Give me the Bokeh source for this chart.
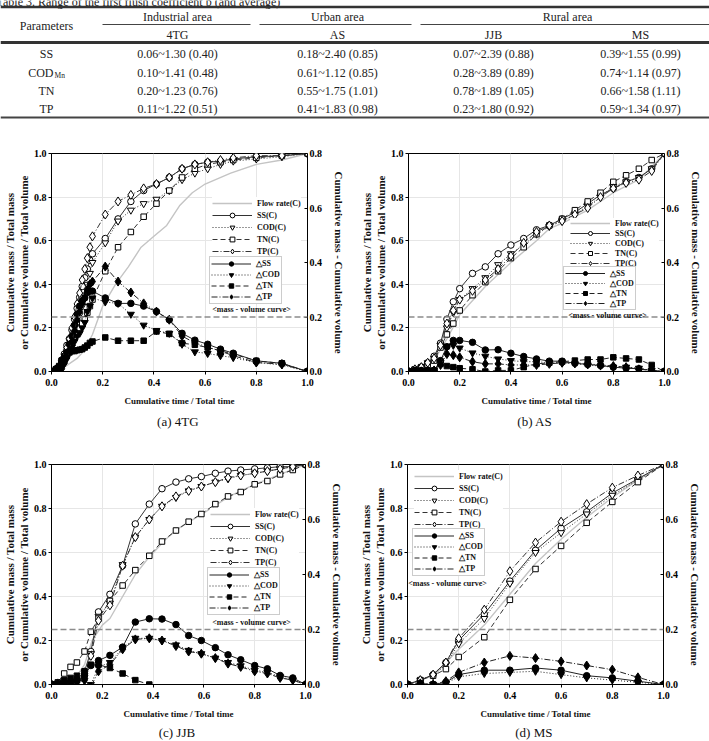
import math
from bokeh.plotting import figure
from bokeh.layouts import column, row
from bokeh.models import (Range1d, LinearAxis, Span, Legend, LegendItem, Label, Title,
                          FixedTicker, PrintfTickFormatter)
from bokeh.embed import file_html
from bokeh.resources import INLINE
from bokeh.core.properties import value

SERIF = "Liberation Serif"

# ---------------- table data ----------------
table_title = "Table 3. Range of the first flush coefficient b (and average)"
area_labels = ["Industrial area", "Urban area", "Rural area"]
site_labels = ["4TG", "AS", "JJB", "MS"]
param_labels = ["SS", "COD", "TN", "TP"]
param_subs = ["", "Mn", "", ""]
b_4TG = ["0.06~1.30 (0.40)", "0.10~1.41 (0.48)", "0.20~1.23 (0.76)", "0.11~1.22 (0.51)"]
b_AS = ["0.18~2.40 (0.85)", "0.61~1.12 (0.85)", "0.55~1.75 (1.01)", "0.41~1.83 (0.98)"]
b_JJB = ["0.07~2.39 (0.88)", "0.28~3.89 (0.89)", "0.78~1.89 (1.05)", "0.23~1.80 (0.92)"]
b_MS = ["0.39~1.55 (0.99)", "0.74~1.14 (0.97)", "0.66~1.58 (1.11)", "0.59~1.34 (0.97)"]

# ---------------- chart data ----------------
axis_ticks = [0.0, 0.2, 0.4, 0.6, 0.8, 1.0]
right_ticks = [0.0, 0.2, 0.4, 0.6, 0.8]
first_flush_ref = 0.2  # on right axis

# (a) 4TG
x_4tg = [0, 0.02, 0.03, 0.04, 0.05, 0.06, 0.07, 0.08, 0.09, 0.10, 0.11, 0.12, 0.13, 0.14, 0.15, 0.16,
         0.21, 0.26, 0.31, 0.36, 0.41, 0.46, 0.51, 0.56, 0.61, 0.66, 0.71, 0.80, 0.90, 1.00]
ss_c_4tg = [0, 0.01, 0.02, 0.05, 0.08, 0.12, 0.15, 0.19, 0.24, 0.29, 0.34, 0.39, 0.43, 0.47, 0.51, 0.54,
            0.61, 0.70, 0.78, 0.83, 0.86, 0.89, 0.93, 0.95, 0.96, 0.965, 0.975, 0.985, 0.99, 1.0]
cod_c_4tg = [0, 0.01, 0.02, 0.04, 0.06, 0.09, 0.12, 0.15, 0.18, 0.22, 0.26, 0.30, 0.35, 0.40, 0.45, 0.50,
             0.59, 0.69, 0.74, 0.77, 0.79, 0.83, 0.88, 0.91, 0.93, 0.95, 0.965, 0.975, 0.985, 1.0]
tn_c_4tg = [0, 0.01, 0.02, 0.05, 0.07, 0.10, 0.12, 0.14, 0.16, 0.18, 0.20, 0.22, 0.24, 0.27, 0.30, 0.33,
            0.46, 0.57, 0.64, 0.71, 0.77, 0.83, 0.89, 0.93, 0.95, 0.96, 0.97, 0.98, 0.99, 1.0]
tp_c_4tg = [0, 0.01, 0.02, 0.04, 0.07, 0.11, 0.15, 0.20, 0.25, 0.31, 0.36, 0.42, 0.47, 0.52, 0.57, 0.62,
            0.72, 0.78, 0.81, 0.84, 0.86, 0.89, 0.93, 0.95, 0.96, 0.97, 0.98, 0.99, 0.99, 1.0]
flow_x_4tg = [0, 0.05, 0.10, 0.13, 0.16, 0.20, 0.25, 0.30, 0.35, 0.40, 0.45, 0.50, 0.55, 0.60, 0.70, 0.80, 0.90, 1.00]
flow_y_4tg = [0, 0.02, 0.06, 0.10, 0.17, 0.30, 0.40, 0.48, 0.57, 0.62, 0.67, 0.76, 0.82, 0.86, 0.91, 0.95, 0.97, 1.0]
dss_4tg = [0, 0.01, 0.01, 0.03, 0.05, 0.07, 0.10, 0.13, 0.17, 0.21, 0.24, 0.26, 0.27, 0.29, 0.295, 0.295,
           0.27, 0.25, 0.25, 0.24, 0.22, 0.19, 0.14, 0.115, 0.10, 0.082, 0.067, 0.039, 0.03, 0]
dcod_4tg = [0, 0.01, 0.01, 0.02, 0.03, 0.05, 0.07, 0.09, 0.11, 0.13, 0.14, 0.16, 0.18, 0.22, 0.24, 0.27,
            0.255, 0.25, 0.21, 0.17, 0.15, 0.14, 0.10, 0.072, 0.066, 0.058, 0.051, 0.033, 0.024, 0]
dtn_x_4tg = x_4tg
dtn_4tg = [0, 0.01, 0.02, 0.04, 0.05, 0.065, 0.07, 0.075, 0.075, 0.078, 0.08, 0.082, 0.088, 0.095, 0.105, 0.11,
           0.125, 0.113, 0.113, 0.113, 0.147, 0.138, 0.104, 0.098, 0.088, 0.076, 0.064, 0.039, 0.03, 0]
dtp_4tg = [0, 0.01, 0.005, 0.01, 0.03, 0.05, 0.08, 0.11, 0.15, 0.19, 0.22, 0.25, 0.27, 0.30, 0.32, 0.33,
           0.385, 0.33, 0.29, 0.25, 0.22, 0.19, 0.13, 0.105, 0.09, 0.075, 0.058, 0.033, 0.027, 0]

# (b) AS
x_as = [0, 0.025, 0.05, 0.075, 0.1, 0.125, 0.15, 0.175, 0.2, 0.25, 0.3, 0.35, 0.4, 0.45, 0.5,
        0.55, 0.6, 0.65, 0.7, 0.75, 0.8, 0.85, 0.9, 0.95, 1.0]
ss_c_as = [0, 0.01, 0.02, 0.04, 0.07, 0.13, 0.24, 0.32, 0.38, 0.45, 0.48, 0.54, 0.58, 0.61, 0.65,
           0.67, 0.70, 0.73, 0.77, 0.81, 0.84, 0.87, 0.89, 0.93, 1.0]
cod_c_as = [0, 0.01, 0.02, 0.04, 0.06, 0.12, 0.20, 0.27, 0.33, 0.38, 0.43, 0.49, 0.54, 0.58, 0.63,
            0.665, 0.69, 0.72, 0.76, 0.80, 0.85, 0.87, 0.89, 0.93, 1.0]
tn_c_as = [0, 0.01, 0.02, 0.03, 0.05, 0.11, 0.17, 0.22, 0.28, 0.35, 0.41, 0.46, 0.52, 0.57, 0.63,
           0.67, 0.70, 0.74, 0.78, 0.82, 0.87, 0.90, 0.93, 0.97, 1.0]
tp_c_as = [0, 0.01, 0.02, 0.04, 0.06, 0.12, 0.22, 0.28, 0.33, 0.37, 0.42, 0.47, 0.53, 0.59, 0.64,
           0.67, 0.69, 0.72, 0.75, 0.80, 0.84, 0.865, 0.88, 0.92, 1.0]
flow_x_as = [0, 0.1, 0.125, 0.15, 0.2, 0.3, 0.4, 0.5, 0.55, 0.6, 0.7, 0.8, 0.9, 1.0]
flow_y_as = [0, 0.05, 0.10, 0.15, 0.26, 0.39, 0.50, 0.60, 0.655, 0.68, 0.74, 0.82, 0.88, 1.0]
dss_as = [0, 0.004, 0.004, 0.004, 0.004, 0.04, 0.091, 0.114, 0.114, 0.107, 0.079, 0.08, 0.067, 0.055, 0.046,
          0.038, 0.038, 0.03, 0.026, 0.022, 0.016, 0.012, 0.01, 0.004, 0]
dcod_as = [0, 0.002, 0.002, 0.002, 0.004, 0.032, 0.092, 0.096, 0.086, 0.068, 0.056, 0.046, 0.04, 0.036, 0.036,
           0.032, 0.032, 0.028, 0.024, 0.02, 0.016, 0.016, 0.012, 0.004, 0]
dtn_x_as = x_as
dtn_as = [0, 0, 0, 0.002, 0.004, 0.028, 0.02, 0.016, 0.012, 0.008, 0.0, 0.004, 0.004, 0.016, 0.028,
          0.032, 0.036, 0.04, 0.044, 0.044, 0.052, 0.048, 0.044, 0.024, 0]
dtp_as = [0, 0, 0, 0.002, 0.004, 0.024, 0.064, 0.06, 0.052, 0.036, 0.028, 0.028, 0.024, 0.024, 0.024,
          0.028, 0.032, 0.032, 0.028, 0.024, 0.02, 0.016, 0.008, 0.004, 0]

# (c) JJB
x_jjb = [0, 0.025, 0.05, 0.075, 0.1, 0.13, 0.155, 0.185, 0.23, 0.28, 0.33, 0.385, 0.435, 0.49,
         0.54, 0.59, 0.645, 0.695, 0.745, 0.8, 0.85, 0.9, 0.95, 1.0]
ss_c_jjb = [0, 0.005, 0.005, 0.01, 0.02, 0.06, 0.15, 0.33, 0.41, 0.54, 0.73, 0.82, 0.89, 0.92,
            0.935, 0.945, 0.96, 0.97, 0.975, 0.98, 0.985, 0.99, 0.99, 1.0]
cod_c_jjb = [0, 0.005, 0.005, 0.01, 0.015, 0.04, 0.14, 0.31, 0.37, 0.545, 0.67, 0.75, 0.81, 0.85,
             0.88, 0.90, 0.92, 0.935, 0.95, 0.96, 0.97, 0.98, 0.99, 1.0]
tn_c_jjb = [0, 0.01, 0.05, 0.08, 0.10, 0.15, 0.24, 0.30, 0.38, 0.45, 0.52, 0.585, 0.65, 0.70,
            0.74, 0.775, 0.82, 0.855, 0.875, 0.91, 0.925, 0.955, 0.975, 1.0]
tp_c_jjb = [0, 0.005, 0.005, 0.01, 0.015, 0.04, 0.13, 0.29, 0.36, 0.54, 0.67, 0.75, 0.81, 0.855,
            0.88, 0.90, 0.92, 0.94, 0.95, 0.96, 0.97, 0.98, 0.99, 1.0]
flow_x_jjb = [0, 0.05, 0.1, 0.13, 0.16, 0.2, 0.23, 0.28, 0.33, 0.385, 0.45, 0.5, 0.6, 0.7, 0.8, 0.9, 1.0]
flow_y_jjb = [0, 0.01, 0.04, 0.09, 0.20, 0.27, 0.30, 0.40, 0.50, 0.58, 0.66, 0.71, 0.78, 0.855, 0.91, 0.955, 1.0]
dss_jjb = [0, 0, 0.004, 0.008, 0.016, 0.032, 0.069, 0.087, 0.106, 0.136, 0.227, 0.239, 0.238, 0.218,
           0.178, 0.16, 0.134, 0.108, 0.09, 0.069, 0.057, 0.033, 0.024, 0]
dcod_jjb = [0, 0, 0, 0.004, 0.008, 0.016, 0, 0.064, 0.08, 0.132, 0.168, 0.168, 0.16, 0.144,
            0.124, 0.112, 0.096, 0.08, 0.068, 0.052, 0.044, 0.028, 0.016, 0]
dtn_x_jjb = [0, 0.025, 0.05, 0.075, 0.1, 0.13, 0.155, 0.185, 0.23, 0.28, 0.33, 0.385]
dtn_jjb = [0, 0.004, 0.016, 0.024, 0.032, 0.048, 0.072, 0.072, 0.06, 0.04, 0.016, 0.0]
dtp_jjb = [0, 0, 0, 0.004, 0.008, 0.016, -0.008, 0.048, 0.072, 0.128, 0.164, 0.168, 0.16, 0.14,
           0.12, 0.112, 0.096, 0.076, 0.064, 0.048, 0.04, 0.024, 0.016, 0]

# (d) MS
x_ms = [0, 0.05, 0.1, 0.15, 0.2, 0.3, 0.4, 0.5, 0.6, 0.7, 0.8, 0.9, 1.0]
ss_c_ms = [0, 0.02, 0.045, 0.10, 0.20, 0.32, 0.47, 0.61, 0.71, 0.785, 0.87, 0.935, 1.0]
cod_c_ms = [0, 0.02, 0.04, 0.09, 0.185, 0.30, 0.46, 0.60, 0.69, 0.775, 0.86, 0.93, 1.0]
tn_c_ms = [0, 0.02, 0.04, 0.07, 0.125, 0.215, 0.385, 0.525, 0.63, 0.735, 0.83, 0.92, 1.0]
tp_c_ms = [0, 0.02, 0.045, 0.10, 0.21, 0.34, 0.515, 0.645, 0.74, 0.82, 0.895, 0.95, 1.0]
flow_x_ms = [0, 0.1, 0.2, 0.3, 0.4, 0.5, 0.6, 0.7, 0.8, 0.9, 1.0]
flow_y_ms = [0, 0.04, 0.16, 0.27, 0.41, 0.55, 0.66, 0.76, 0.85, 0.93, 1.0]
dss_ms = [0, 0, 0, 0.008, 0.036, 0.052, 0.052, 0.06, 0.052, 0.032, 0.024, 0.012, 0]
dcod_ms = [0, 0, 0, 0.004, 0.028, 0.04, 0.044, 0.048, 0.036, 0.024, 0.016, 0.008, 0]
dtn_x_ms = [0, 0.05, 0.1, 0.15]
dtn_ms = [0, 0.004, 0.0, 0.0]
dtp_ms = [0, 0.004, 0, 0.012, 0.044, 0.08, 0.104, 0.096, 0.084, 0.069, 0.054, 0.026, 0]

# ---------------- styling ----------------
DASH = {"SS": "solid", "COD": "1 2", "TN": "5 3", "TP": "6 2 1 2"}
MARK = {"SS": ("circle", 6.5), "COD": ("inverted_triangle", 7), "TN": ("square", 5.5), "TP": ("diamond", 9)}
DELTA = "\u25b3"


def make_table():
    t = figure(width=709, height=140, x_range=Range1d(0, 709), y_range=Range1d(140, 0),
               x_axis_type=None, y_axis_type=None, output_backend="svg", toolbar_location=None,
               min_border=0, outline_line_color=None)
    t.grid.visible = False
    ink = "#222222"
    font = value(SERIF)
    t.text(x=[-4], y=[1.5], text=[table_title], text_font=font, text_font_size="12px",
           text_align="left", text_baseline="alphabetic", text_color=ink)
    # rules
    t.segment(x0=[0], y0=[6.5], x1=[709], y1=[6.5], line_width=2.6, line_color="#333333")
    t.segment(x0=[102, 259, 420], y0=[24, 24, 24], x1=[250, 411, 709], y1=[24, 24, 24],
              line_width=1, line_color="#444444")
    t.segment(x0=[0], y0=[42], x1=[709], y1=[42], line_width=3, line_color="#333333")
    t.segment(x0=[0], y0=[117], x1=[709], y1=[117], line_width=2, line_color="#444444")
    col_x = [177, 337, 493, 640]
    area_x = [177, 337, 567]
    row_y = [53, 72, 90, 108]
    t.text(x=[46], y=[25], text=["Parameters"], text_font=font, text_font_size="12px",
           text_align="center", text_baseline="middle", text_color=ink)
    t.text(x=area_x, y=[16] * 3, text=area_labels, text_font=font, text_font_size="12px",
           text_align="center", text_baseline="middle", text_color=ink)
    t.text(x=col_x, y=[34] * 4, text=site_labels, text_font=font, text_font_size="12px",
           text_align="center", text_baseline="middle", text_color=ink)
    for i, (name, sub) in enumerate(zip(param_labels, param_subs)):
        if sub:
            t.text(x=[53], y=[row_y[i]], text=[name], text_font=font, text_font_size="12px",
                   text_align="right", text_baseline="middle", text_color=ink)
            t.text(x=[54], y=[row_y[i] + 3], text=[sub], text_font=font, text_font_size="7.5px",
                   text_align="left", text_baseline="middle", text_color=ink)
        else:
            t.text(x=[46], y=[row_y[i]], text=[name], text_font=font, text_font_size="12px",
                   text_align="center", text_baseline="middle", text_color=ink)
    for cx, vals in zip(col_x, [b_4TG, b_AS, b_JJB, b_MS]):
        t.text(x=[cx] * 4, y=row_y, text=vals, text_font=font, text_font_size="12px",
               text_align="center", text_baseline="middle", text_color=ink)
    return t


def style_axis(ax, tick_size="10px", label_size="9px"):
    ax.major_label_text_font = SERIF
    ax.major_label_text_font_style = "bold"
    ax.major_label_text_font_size = tick_size
    ax.major_label_text_color = "black"
    ax.axis_label_text_font = SERIF
    ax.axis_label_text_font_style = "bold"
    ax.axis_label_text_font_size = label_size
    ax.axis_label_text_color = "#111111"
    ax.minor_tick_in = 0
    ax.minor_tick_out = 0
    ax.axis_line_color = "black"
    ax.major_tick_line_color = "black"


def make_panel(cfg, x, ss, cod, tn, tp, fx, fy, dss, dcod, dtn_x, dtn, dtp):
    ox, oy = cfg["origin"]
    W, H = cfg["size"]
    L, R, T, B = cfg["borders"]
    frame_left = ox + L
    frame_bottom = oy + H - B
    p = figure(width=W, height=H, x_range=Range1d(0, 1), y_range=Range1d(0, 1),
               output_backend="svg", toolbar_location=None,
               min_border_left=L, min_border_right=R, min_border_top=T, min_border_bottom=B,
               background_fill_color="white", border_fill_color="white")
    p.extra_y_ranges = {"r": Range1d(0, 0.8)}
    p.outline_line_color = "black"
    p.outline_line_width = 1

    xa = p.xaxis[0]
    xa.ticker = FixedTicker(ticks=axis_ticks)
    xa.formatter = PrintfTickFormatter(format="%.1f")
    xa.axis_label = "Cumulative time / Total time"
    style_axis(xa, "10px", "9px")
    xa.major_tick_out = 3
    xa.major_tick_in = 0
    xa.major_label_standoff = 4
    xa.axis_label_standoff = 7

    ya = p.yaxis[0]
    ya.ticker = FixedTicker(ticks=axis_ticks)
    ya.formatter = PrintfTickFormatter(format="%.1f")
    ya.axis_label = "Cumulative mass / Total mass\nor Cumulative volume / Total volume"
    style_axis(ya, "10px", "11px")
    ya.major_tick_out = 3
    ya.major_tick_in = 0
    ya.major_label_standoff = 2
    ya.axis_label_standoff = 1

    ra = LinearAxis(y_range_name="r", ticker=FixedTicker(ticks=right_ticks),
                    formatter=PrintfTickFormatter(format="%.1f"),
                    axis_label="Cumulative mass - Cumulative volume")
    style_axis(ra, "10px", "11px")
    ra.major_tick_out = 0
    ra.major_tick_in = 3
    ra.major_label_standoff = 2
    ra.axis_label_standoff = 8
    p.add_layout(ra, "right")

    p.xgrid.ticker = FixedTicker(ticks=axis_ticks)
    p.ygrid.ticker = FixedTicker(ticks=axis_ticks)
    p.grid.grid_line_color = "#e6e6e6"
    p.grid.grid_line_width = 1

    p.add_layout(Span(location=first_flush_ref, dimension="width", y_range_name="r",
                      line_color="#8c8c8c", line_dash="6 3", line_width=1.3))

    flow_r = p.line(fx, fy, line_color="#c4c4c4", line_width=1.4)

    c_items = [LegendItem(label="Flow rate(C)", renderers=[flow_r])]
    for key, ys in [("SS", ss), ("COD", cod), ("TN", tn), ("TP", tp)]:
        mk, sz = MARK[key]
        lr = p.line(x, ys, line_color="#333333", line_width=1, line_dash=DASH[key])
        sr = p.scatter(x, ys, marker=mk, size=sz, fill_color="white", line_color="black", line_width=1)
        c_items.append(LegendItem(label=f"{key}(C)", renderers=[lr, sr]))

    d_items = []
    for key, xs, ys in [("SS", x, dss), ("COD", x, dcod), ("TN", dtn_x, dtn), ("TP", x, dtp)]:
        mk, sz = MARK[key]
        lr = p.line(xs, ys, y_range_name="r", line_color="#222222", line_width=1, line_dash=DASH[key])
        sr = p.scatter(xs, ys, y_range_name="r", marker=mk, size=sz, fill_color="black",
                       line_color="black", line_width=1)
        d_items.append(LegendItem(label=f"{DELTA}{key}", renderers=[lr, sr]))

    def add_leg(items, top_left, item_h, pad, border):
        lx, ly = top_left
        h = 2 * pad + len(items) * item_h
        leg = Legend(items=items, location=(lx - frame_left, frame_bottom - (ly + h)),
                     orientation="vertical", padding=pad, margin=0, spacing=0,
                     glyph_width=40, glyph_height=item_h, label_height=item_h, label_standoff=5,
                     label_text_font=SERIF, label_text_font_style="bold",
                     label_text_font_size=cfg["legend_font"], label_text_color="#111111",
                     background_fill_color="white", background_fill_alpha=1.0,
                     border_line_color="#9a9a9a" if border else None, border_line_width=1)
        p.add_layout(leg)

    add_leg(c_items, cfg["c_leg"], cfg["c_h"], 0, False)
    add_leg(d_items, cfg["d_leg"], cfg["d_h"], 1, True)

    mx, my = cfg["mvc"]
    p.add_layout(Label(x=mx - frame_left, y=frame_bottom - my, x_units="screen", y_units="screen",
                       text="<mass - volume curve>", text_align="center", text_baseline="middle",
                       text_font=SERIF, text_font_style="bold", text_font_size=cfg["legend_font"],
                       text_color="#111111"))
    p.add_layout(Title(text=cfg["caption"], align="center", text_font=SERIF, text_font_style="normal",
                       text_font_size="13px", text_color="#111111", standoff=cfg["cap_standoff"]),
                 "below")
    return p


cfg_a = dict(origin=(0, 140), size=(354, 300), borders=(48, 47, 13, 69), c_leg=(209, 197), c_h=12,
             d_leg=(206, 258), d_h=11, mvc=(248, 309), caption="(a)  4TG", cap_standoff=7, legend_font="8px")
cfg_b = dict(origin=(354, 140), size=(355, 300), borders=(54, 45, 12, 69), c_leg=(570, 218), c_h=10,
             d_leg=(563, 268), d_h=10, mvc=(607, 315), caption="(b)  AS", cap_standoff=7, legend_font="8px")
cfg_c = dict(origin=(0, 440), size=(354, 301), borders=(48, 49, 24, 57), c_leg=(207, 508), c_h=12,
             d_leg=(204, 569), d_h=11, mvc=(248, 622), caption="(c)  JJB", cap_standoff=3, legend_font="8px")
cfg_d = dict(origin=(354, 440), size=(355, 301), borders=(53, 46, 24, 57), c_leg=(414, 470), c_h=12,
             d_leg=(412, 530), d_h=11, mvc=(447, 583), caption="(d)  MS", cap_standoff=3, legend_font="8px")

pa = make_panel(cfg_a, x_4tg, ss_c_4tg, cod_c_4tg, tn_c_4tg, tp_c_4tg, flow_x_4tg, flow_y_4tg,
                dss_4tg, dcod_4tg, dtn_x_4tg, dtn_4tg, dtp_4tg)
pb = make_panel(cfg_b, x_as, ss_c_as, cod_c_as, tn_c_as, tp_c_as, flow_x_as, flow_y_as,
                dss_as, dcod_as, dtn_x_as, dtn_as, dtp_as)
pc = make_panel(cfg_c, x_jjb, ss_c_jjb, cod_c_jjb, tn_c_jjb, tp_c_jjb, flow_x_jjb, flow_y_jjb,
                dss_jjb, dcod_jjb, dtn_x_jjb, dtn_jjb, dtp_jjb)
pd_ = make_panel(cfg_d, x_ms, ss_c_ms, cod_c_ms, tn_c_ms, tp_c_ms, flow_x_ms, flow_y_ms,
                 dss_ms, dcod_ms, dtn_x_ms, dtn_ms, dtp_ms)

layout = column(make_table(), row(pa, pb, spacing=0), row(pc, pd_, spacing=0), spacing=0)

with open("out.html", "w") as f:
    f.write(file_html(layout, INLINE))
